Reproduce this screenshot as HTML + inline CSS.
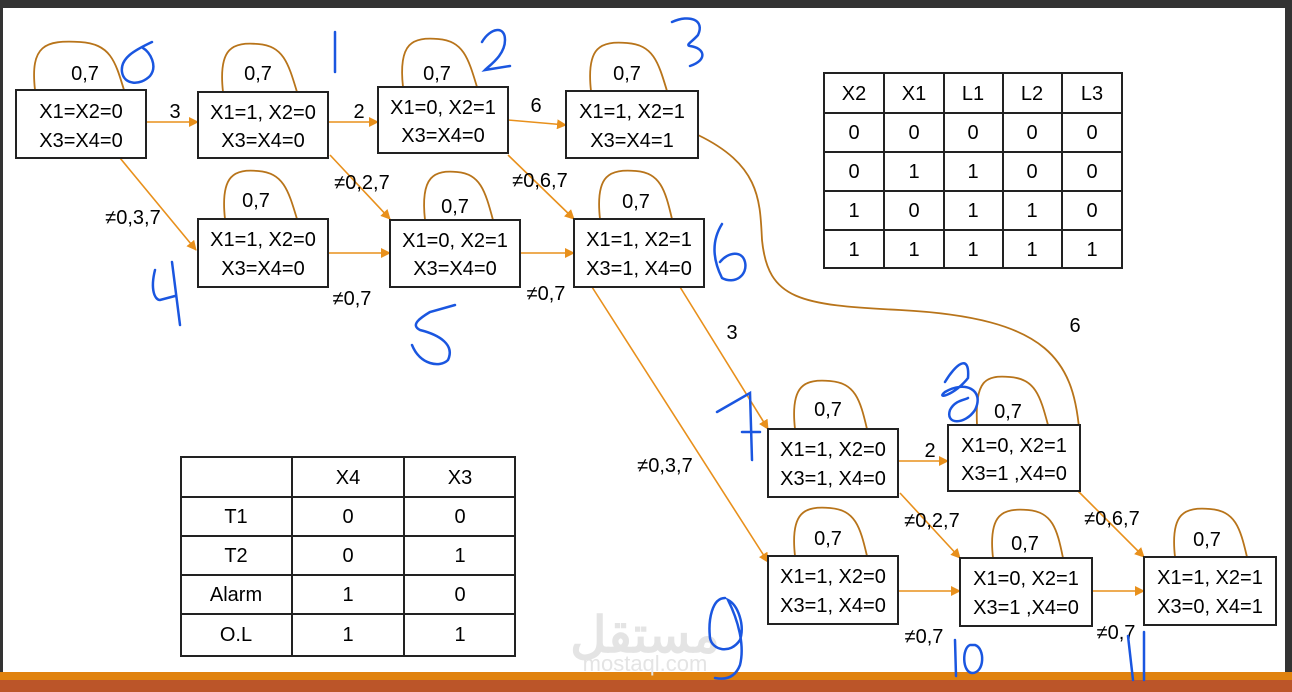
<!DOCTYPE html>
<html><head><meta charset="utf-8"><style>
html,body{margin:0;padding:0;background:#fff;}
svg{display:block;}
text{font-family:"Liberation Sans",sans-serif;font-size:20px;fill:#000;}
</style></head><body>
<svg width="1292" height="692" viewBox="0 0 1292 692" xmlns="http://www.w3.org/2000/svg">
<defs><marker id="a" markerWidth="10" markerHeight="10" refX="9" refY="5" orient="auto" markerUnits="userSpaceOnUse"><path d="M0,0 L10,5 L0,10 z" fill="#e8901c"/></marker></defs>
<rect x="0" y="0" width="1292" height="692" fill="#fff"/>
<rect x="0" y="0" width="1292" height="8" fill="#333"/>
<rect x="0" y="0" width="3" height="692" fill="#333"/>
<rect x="1285" y="0" width="7" height="692" fill="#333"/>
<rect x="0" y="672" width="1292" height="8" fill="#e0820f"/>
<rect x="0" y="680" width="1292" height="12" fill="#bb5529"/>
<text x="645" y="652" text-anchor="middle" style="font-size:50px;fill:#e4e4e4;font-weight:bold" font-family="DejaVu Sans">مستقل</text>
<text x="645" y="671" text-anchor="middle" style="font-size:22px;fill:#e4e4e4">mostaql.com</text>

<g fill="none" stroke="#b8741a" stroke-width="1.8">
<path d="M35,90 C30,45 45,40 80,42 C110,44 115,60 124,90"/>
<path d="M223,92 C218,47 233,42 258,44 C283,46 288,62 297,92"/>
<path d="M403,87 C398,42 413,37 438,39 C463,41 468,57 477,87"/>
<path d="M591,91 C586,46 601,41 627,43 C653,45 658,61 667,91"/>
<path d="M225,219 C220,174 235,169 258,171 C283,173 288,189 297,219"/>
<path d="M425,220 C420,175 435,170 457,172 C480,174 485,190 493,220"/>
<path d="M600,219 C595,174 610,169 636,171 C660,173 665,189 672,219"/>
<path d="M795,429 C790,384 805,379 830,381 C855,383 860,399 867,429"/>
<path d="M977,425 C975,380 985,375 1010,377 C1035,379 1040,395 1048,425"/>
<path d="M795,556 C790,511 805,506 830,508 C855,510 860,526 867,556"/>
<path d="M993,558 C988,513 1003,508 1028,510 C1052,512 1057,528 1063,558"/>
<path d="M1175,557 C1170,512 1185,507 1210,509 C1235,511 1240,527 1247,557"/>
<path d="M698,135 C760,165 760,200 762,240 C768,300 800,305 900,310 C1050,318 1075,360 1080,440"/>
</g>
<g stroke="#e8901c" stroke-width="1.6" marker-end="url(#a)">
<line x1="146" y1="122" x2="198" y2="122"/>
<line x1="328" y1="122" x2="378" y2="122"/>
<line x1="508" y1="120" x2="566" y2="125"/>
<line x1="120" y1="158" x2="196" y2="250"/>
<line x1="330" y1="155" x2="390" y2="219"/>
<line x1="508" y1="155" x2="574" y2="219"/>
<line x1="328" y1="253" x2="390" y2="253"/>
<line x1="520" y1="253" x2="574" y2="253"/>
<line x1="680" y1="287" x2="768" y2="429"/>
<line x1="592" y1="287" x2="768" y2="562"/>
<line x1="898" y1="461" x2="948" y2="461"/>
<line x1="900" y1="493" x2="960" y2="558"/>
<line x1="1078" y1="491" x2="1144" y2="557"/>
<line x1="898" y1="591" x2="960" y2="591"/>
<line x1="1092" y1="591" x2="1144" y2="591"/>
</g>
<g fill="#fff" stroke="#222" stroke-width="2">
<rect x="16" y="90" width="130" height="68"/>
<rect x="198" y="92" width="130" height="66"/>
<rect x="378" y="87" width="130" height="66"/>
<rect x="566" y="91" width="132" height="67"/>
<rect x="198" y="219" width="130" height="68"/>
<rect x="390" y="220" width="130" height="67"/>
<rect x="574" y="219" width="130" height="68"/>
<rect x="768" y="429" width="130" height="68"/>
<rect x="948" y="425" width="132" height="66"/>
<rect x="768" y="556" width="130" height="68"/>
<rect x="960" y="558" width="132" height="68"/>
<rect x="1144" y="557" width="132" height="68"/>
</g>
<g text-anchor="middle">
<text x="81" y="118">X1=X2=0</text><text x="81" y="147">X3=X4=0</text>
<text x="263" y="119">X1=1, X2=0</text><text x="263" y="147">X3=X4=0</text>
<text x="443" y="114">X1=0, X2=1</text><text x="443" y="142">X3=X4=0</text>
<text x="632" y="118">X1=1, X2=1</text><text x="632" y="147">X3=X4=1</text>
<text x="263" y="246">X1=1, X2=0</text><text x="263" y="275">X3=X4=0</text>
<text x="455" y="247">X1=0, X2=1</text><text x="455" y="275">X3=X4=0</text>
<text x="639" y="246">X1=1, X2=1</text><text x="639" y="275">X3=1, X4=0</text>
<text x="833" y="456">X1=1, X2=0</text><text x="833" y="485">X3=1, X4=0</text>
<text x="1014" y="452">X1=0, X2=1</text><text x="1014" y="480">X3=1 ,X4=0</text>
<text x="833" y="583">X1=1, X2=0</text><text x="833" y="612">X3=1, X4=0</text>
<text x="1026" y="585">X1=0, X2=1</text><text x="1026" y="614">X3=1 ,X4=0</text>
<text x="1210" y="584">X1=1, X2=1</text><text x="1210" y="613">X3=0, X4=1</text>
<text x="85" y="80">0,7</text><text x="258" y="80">0,7</text><text x="437" y="80">0,7</text><text x="627" y="80">0,7</text>
<text x="256" y="207">0,7</text><text x="455" y="213">0,7</text><text x="636" y="208">0,7</text>
<text x="828" y="416">0,7</text><text x="1008" y="418">0,7</text><text x="828" y="545">0,7</text>
<text x="1025" y="550">0,7</text><text x="1207" y="546">0,7</text>
<text x="175" y="118">3</text><text x="359" y="118">2</text><text x="536" y="112">6</text>
<text x="133" y="224">≠0,3,7</text><text x="362" y="189">≠0,2,7</text><text x="540" y="187">≠0,6,7</text>
<text x="352" y="305">≠0,7</text><text x="546" y="300">≠0,7</text>
<text x="732" y="339">3</text><text x="665" y="472">≠0,3,7</text><text x="1075" y="332">6</text>
<text x="930" y="457">2</text><text x="932" y="527">≠0,2,7</text><text x="1112" y="525">≠0,6,7</text>
<text x="924" y="643">≠0,7</text><text x="1116" y="639">≠0,7</text>
</g>
<g stroke="#222" stroke-width="2" fill="none">
<rect x="824" y="73" width="298" height="195"/>
<line x1="884" y1="73" x2="884" y2="268"/><line x1="944" y1="73" x2="944" y2="268"/>
<line x1="1003" y1="73" x2="1003" y2="268"/><line x1="1062" y1="73" x2="1062" y2="268"/>
<line x1="824" y1="113" x2="1122" y2="113"/><line x1="824" y1="152" x2="1122" y2="152"/>
<line x1="824" y1="191" x2="1122" y2="191"/><line x1="824" y1="230" x2="1122" y2="230"/>
</g>
<g text-anchor="middle">
<text x="854" y="100">X2</text><text x="914" y="100">X1</text><text x="973" y="100">L1</text><text x="1032" y="100">L2</text><text x="1092" y="100">L3</text>
<text x="854" y="139">0</text><text x="914" y="139">0</text><text x="973" y="139">0</text><text x="1032" y="139">0</text><text x="1092" y="139">0</text>
<text x="854" y="178">0</text><text x="914" y="178">1</text><text x="973" y="178">1</text><text x="1032" y="178">0</text><text x="1092" y="178">0</text>
<text x="854" y="217">1</text><text x="914" y="217">0</text><text x="973" y="217">1</text><text x="1032" y="217">1</text><text x="1092" y="217">0</text>
<text x="854" y="256">1</text><text x="914" y="256">1</text><text x="973" y="256">1</text><text x="1032" y="256">1</text><text x="1092" y="256">1</text>
</g>
<g stroke="#222" stroke-width="2" fill="none">
<rect x="181" y="457" width="334" height="199"/>
<line x1="292" y1="457" x2="292" y2="656"/><line x1="404" y1="457" x2="404" y2="656"/>
<line x1="181" y1="497" x2="515" y2="497"/><line x1="181" y1="536" x2="515" y2="536"/>
<line x1="181" y1="575" x2="515" y2="575"/><line x1="181" y1="614" x2="515" y2="614"/>
</g>
<g text-anchor="middle">
<text x="348" y="484">X4</text><text x="460" y="484">X3</text>
<text x="236" y="523">T1</text><text x="348" y="523">0</text><text x="460" y="523">0</text>
<text x="236" y="562">T2</text><text x="348" y="562">0</text><text x="460" y="562">1</text>
<text x="236" y="601">Alarm</text><text x="348" y="601">1</text><text x="460" y="601">0</text>
<text x="236" y="641">O.L</text><text x="348" y="641">1</text><text x="460" y="641">1</text>
</g>
<g fill="none" stroke="#1a56e0" stroke-width="2.5" stroke-linecap="round">
<path d="M152,42 C135,50 120,58 122,72 C124,85 140,86 150,76 C158,66 150,52 143,48"/>
<path d="M335,32 L335,72"/>
<path d="M482,42 C490,28 505,25 505,40 C505,55 490,65 485,70 L510,66"/>
<path d="M672,22 C690,14 705,20 698,35 C692,42 685,45 690,46 C705,48 708,60 690,66"/>
<path d="M155,270 C150,290 155,300 160,300 L175,296 M172,262 L180,325"/>
<path d="M455,305 L430,312 C420,318 410,325 420,330 C440,335 455,345 448,360 C440,368 420,365 412,345"/>
<path d="M722,224 C712,240 712,258 722,278 C735,285 748,275 745,262 C742,250 728,252 720,262"/>
<path d="M717,412 L750,393 L752,460 M742,432 L760,432"/>
<path d="M945,382 C955,365 970,352 968,378 C955,395 935,400 945,392 C965,380 985,390 975,410 C965,425 945,425 950,410 C955,400 965,400 968,398"/>
<path d="M725,598 C712,598 708,620 710,638 C712,650 730,655 740,640 C745,625 738,605 728,600 C738,620 745,645 740,665 C735,678 725,680 715,678"/>
<path d="M955,640 L956,676 M970,645 C962,648 962,672 972,673 C985,673 985,648 975,645 Z"/>
<path d="M1128,636 L1133,680 M1144,632 L1144,680"/>
</g>
</svg>
</body></html>
